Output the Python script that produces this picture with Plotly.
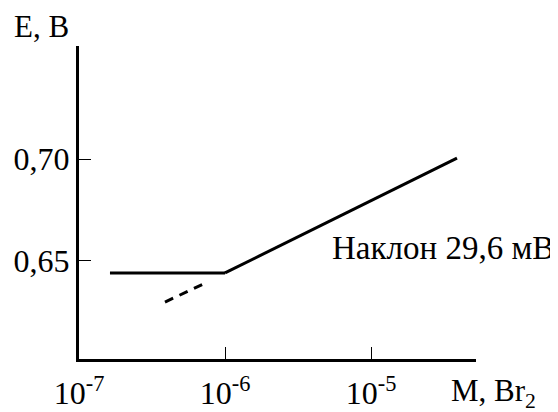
import plotly.graph_objects as go

# Data
flat_M = [1.63e-7, 1.0e-6]
flat_E = [0.6441, 0.6441]
slope_M = [1.0e-6, 3.88e-5]
slope_E = [0.6441, 0.7005]
dash_M = [3.88e-7, 7.66e-7]
dash_E = [0.6298, 0.6397]

x_tickvals = [1e-7, 1e-6, 1e-5]
x_ticktext = ["10<sup>-7</sup>", "10<sup>-6</sup>", "10<sup>-5</sup>"]
y_tickvals = [0.65, 0.70]
y_ticktext = ["0,65", "0,70"]

FONT = "Liberation Serif"
FS = 32

fig = go.Figure()
line = dict(color="black", width=3)
fig.add_trace(go.Scatter(x=flat_M, y=flat_E, mode="lines", line=line, showlegend=False))
fig.add_trace(go.Scatter(x=slope_M, y=slope_E, mode="lines", line=line, showlegend=False))
fig.add_trace(go.Scatter(x=dash_M, y=dash_E, mode="lines",
                         line=dict(color="black", width=3, dash="9px,7px"), showlegend=False))

# The page body adds an 8px margin, so the figure is sized 550x404.
fig.update_layout(
    width=550, height=404,
    margin=dict(l=71, r=82, t=38, b=53, autoexpand=False),
    paper_bgcolor="white", plot_bgcolor="white",
    font=dict(family=FONT, size=FS, color="black"),
    xaxis=dict(type="log", range=[-7, -4.281], showgrid=False, zeroline=False,
               automargin=False,
               showline=True, linecolor="black", linewidth=3,
               ticks="inside", ticklen=12, tickwidth=1, tickcolor="black",
               ticklabelstandoff=4,
               tickvals=x_tickvals, ticktext=x_ticktext,
               tickfont=dict(family=FONT, size=FS, color="black")),
    yaxis=dict(range=[0.6018, 0.7556], showgrid=False, zeroline=False,
               automargin=False,
               showline=True, linecolor="black", linewidth=3,
               ticks="inside", ticklen=12, tickwidth=1, tickcolor="black",
               tickvals=y_tickvals, ticktext=y_ticktext,
               tickfont=dict(family=FONT, size=FS, color="black")),
    annotations=[
        dict(text="Наклон 29,6 мВ", xref="paper", yref="paper", x=0.632, y=0.355,
             xanchor="left", yanchor="middle", showarrow=False,
             font=dict(family=FONT, size=33, color="black")),
        dict(text="E, B", xref="paper", yref="paper", x=-0.169, y=1.061,
             xanchor="left", yanchor="middle", showarrow=False,
             font=dict(family=FONT, size=31, color="black")),
        dict(text="M, Br<sub>2</sub>", xref="paper", yref="paper", x=0.932, y=-0.11,
             xanchor="left", yanchor="middle", showarrow=False,
             font=dict(family=FONT, size=31, color="black")),
    ],
)

fig.write_html("out.html")
